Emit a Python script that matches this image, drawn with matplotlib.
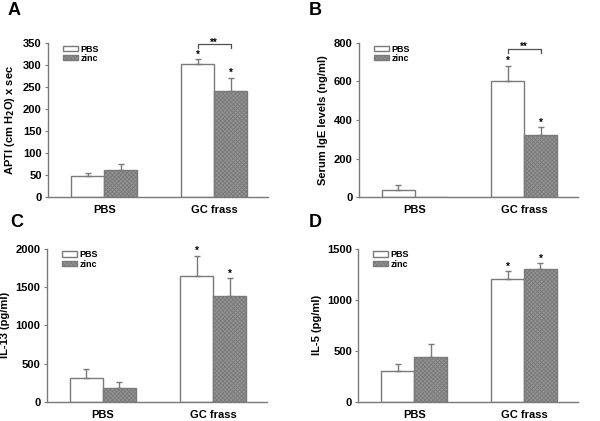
import numpy as np
import matplotlib.pyplot as plt

plt.rcParams['font.family'] = ['Liberation Sans', 'DejaVu Sans']
plt.rcParams['hatch.linewidth'] = 0.6
plt.rcParams['hatch.color'] = '#333333'

# 数据
groups = ['PBS', 'GC frass']
series = ['PBS', 'zinc']

apti_mean = [[47, 62], [302, 240]]
apti_err = [[7, 13], [12, 31]]

ige_mean = [[38, 0], [605, 322]]
ige_err = [[27, 0], [77, 40]]

il13_mean = [[320, 180], [1650, 1380]]
il13_err = [[110, 80], [260, 240]]

il5_mean = [[305, 445], [1200, 1305]]
il5_err = [[70, 120], [80, 55]]

# 显著性括号高度 (None 表示无括号)
apti_bracket = 347
ige_bracket = 769

panels = [
    ('A', apti_mean, apti_err, 'APTI (cm H$_\\mathbf{2}$O) x sec', 350, 50, [(1, 0), (1, 1)], apti_bracket),
    ('B', ige_mean, ige_err, 'Serum IgE levels (ng/ml)', 800, 200, [(1, 0), (1, 1)], ige_bracket),
    ('C', il13_mean, il13_err, 'IL-13 (pg/ml)', 2000, 500, [(1, 0), (1, 1)], None),
    ('D', il5_mean, il5_err, 'IL-5 (pg/ml)', 1500, 500, [(1, 0), (1, 1)], None),
]

positions = [
    [0.080, 0.532, 0.367, 0.366],
    [0.598, 0.532, 0.365, 0.366],
    [0.078, 0.045, 0.367, 0.364],
    [0.597, 0.045, 0.366, 0.364],
]
letter_pos = [(0.012, 0.995), (0.515, 0.995), (0.017, 0.492), (0.515, 0.492)]

fig = plt.figure(figsize=(6, 4.21), dpi=100)
edge = '#7a7a7a'
w = 0.3
x = np.arange(len(groups))

for (letter, mean, err, ylabel, ymax, ystep, stars, yb), pos, lp in zip(panels, positions, letter_pos):
    ax = fig.add_axes(pos)
    mean = np.array(mean)
    err = np.array(err)
    for j, s in enumerate(series):
        xs = x + (j - 0.5) * w
        if j == 0:
            ax.bar(xs, mean[:, j], w, color='white', edgecolor=edge, linewidth=1.0, label=s)
        else:
            ax.bar(xs, mean[:, j], w, color='#939393', edgecolor=edge, linewidth=1.0,
                   hatch='xxxxxxxx', label=s)
        for xi, m, e in zip(xs, mean[:, j], err[:, j]):
            if m > 0:
                ax.errorbar(xi, m, yerr=[[0], [e]], fmt='none', ecolor=edge,
                            elinewidth=1.0, capsize=2.5, capthick=1.0)
    # 星号
    for gi, sj in stars:
        top = mean[gi, sj] + err[gi, sj]
        ax.annotate('*', (x[gi] + (sj - 0.5) * w, top), xytext=(0, 1), textcoords='offset points',
                    ha='center', va='baseline', fontsize=7, fontweight='bold')
    # 括号
    if yb is not None:
        x0 = x[1] - 0.5 * w
        x1 = x[1] + 0.5 * w
        tail = ymax * 0.025
        ax.plot([x0, x0, x1, x1], [yb - tail, yb, yb, yb - tail],
                color='#505050', linewidth=0.9, clip_on=False)
        ax.annotate('**', ((x0 + x1) / 2, yb), xytext=(0, -1), textcoords='offset points',
                    ha='center', va='baseline', fontsize=7, fontweight='bold')

    ax.set_xlim(-0.51, 1.49)
    ax.set_ylim(0, ymax)
    ax.set_yticks(np.arange(0, ymax + 1, ystep))
    ax.set_xticks(x)
    ax.set_xticklabels(groups, fontsize=8, fontweight='bold')
    ax.tick_params(axis='x', length=0, pad=5.5)
    ax.tick_params(axis='y', length=2.5, width=0.8, color=edge, labelsize=8, pad=2)
    for lab in ax.get_yticklabels():
        lab.set_fontweight('bold')
    ax.set_ylabel(ylabel, fontsize=8, fontweight='bold', labelpad=4)
    ax.spines['top'].set_visible(False)
    ax.spines['right'].set_visible(False)
    ax.spines['left'].set_color(edge)
    ax.spines['bottom'].set_color(edge)
    ax.spines['left'].set_linewidth(1.0)
    ax.spines['bottom'].set_linewidth(1.0)

    leg = ax.legend(loc='upper left', bbox_to_anchor=(0.045, 1.025), frameon=False,
                    fontsize=6.5, handlelength=1.6, handleheight=0.55, handletextpad=0.3,
                    labelspacing=0.05, borderpad=0.1)
    for t in leg.get_texts():
        t.set_fontweight('bold')

    fig.text(lp[0], lp[1], letter, fontsize=13, fontweight='bold', ha='left', va='top')

plt.savefig('out.png', dpi=100)
